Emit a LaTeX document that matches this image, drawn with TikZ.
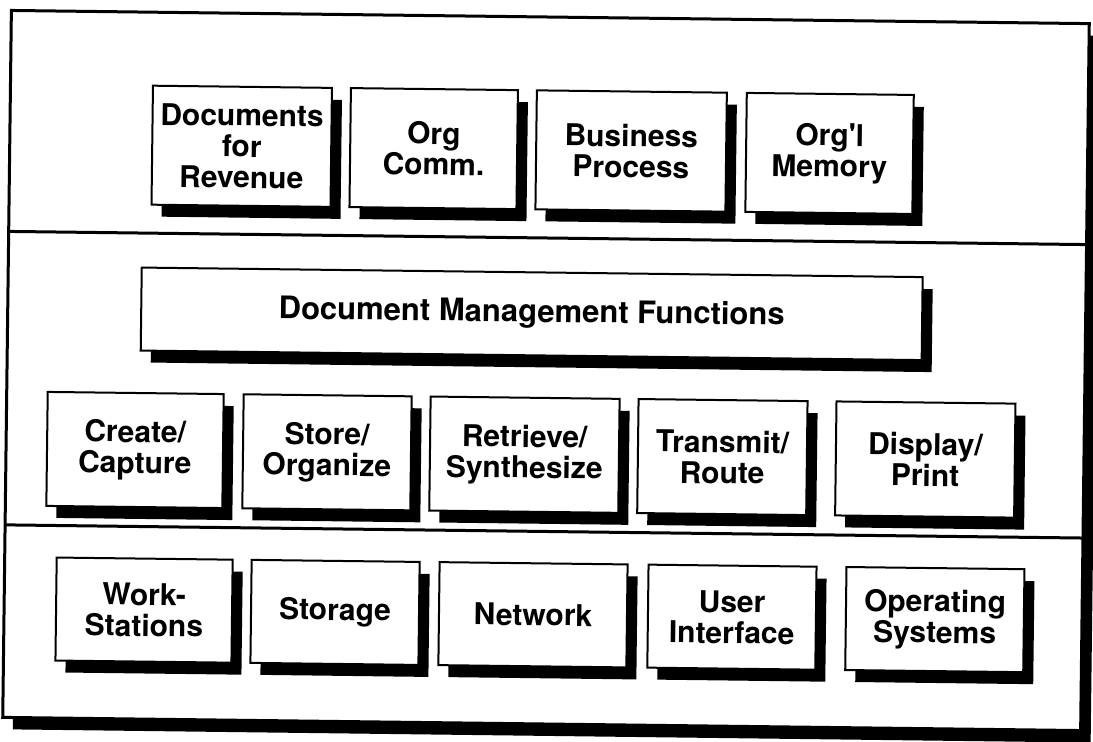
\documentclass[tikz,border=0pt]{standalone}
\usepackage{fontspec}
\setmainfont{TeX Gyre Heros}
\usetikzlibrary{positioning,shadows}
\tikzset{
    frame-box/.style = {draw, line width=3pt, fill=white, inner sep=0pt, outer sep=0pt, minimum width=1078pt, minimum height=707pt, drop shadow={shadow xshift=10pt, shadow yshift=-12pt, fill=black, opacity=1}},
    shadow-box/.style = {draw, line width=2pt, fill=white, align=center, inner sep=2pt, outer sep=0pt, font=\bfseries\fontsize{30}{31}\selectfont, drop shadow={shadow xshift=10pt, shadow yshift=-12pt, fill=black, opacity=1}},
    top-box/.style = {shadow-box, minimum height=119pt},
    mid-box/.style = {shadow-box, minimum height=114pt},
    low-box/.style = {shadow-box, minimum height=103pt},
}

\begin{document}
\begin{tikzpicture}[x=1pt, y=-1pt]
\useasboundingbox (0,0) rectangle (1093,742);
\begin{scope}[rotate around={-0.7:(546,371)}, transform shape]
\node [frame-box] (frame) at (546,370.5) {};
\coordinate (upper) at (0,238);
\coordinate (lower) at (0,531.5);
\draw [line width=3pt] (frame.west |- upper) -- (frame.east |- upper);
\draw [line width=3pt] (frame.west |- lower) -- (frame.east |- lower);

\node [top-box, minimum width=179pt] (docs) at (239,150) {Documents\\for\\Revenue};
\node [top-box, minimum width=167pt, right=19pt of docs] (comm) {Org\\Comm.};
\node [top-box, minimum width=190pt, right=19pt of comm] (proc) {Business\\Process};
\node [top-box, minimum width=167pt, right=20pt of proc] (memory) {Org\textquotesingle l\\Memory};

\node [shadow-box, minimum width=781pt, minimum height=83pt, font=\bfseries\fontsize{31}{32}\selectfont] (dmf) at (531,314) {Document Management Functions};

\node [mid-box, minimum width=176pt] (create) at (136,455) {Create/\\Capture};
\node [mid-box, minimum width=168pt, right=20pt of create] (store) {Store/\\Organize};
\node [mid-box, minimum width=189pt, right=19pt of store] (retrieve) {Retrieve/\\Synthesize};
\node [mid-box, minimum width=169pt, right=19pt of retrieve] (transmit) {Transmit/\\Route};
\node [mid-box, minimum width=179pt, right=29pt of transmit] (display) {Display/\\Print};

\node [low-box, minimum width=176pt] (work) at (147,615) {Work-\\Stations};
\node [low-box, minimum width=168pt, right=19pt of work] (storage) {Storage};
\node [low-box, minimum width=188pt, right=20pt of storage] (network) {Network};
\node [low-box, minimum width=168pt, right=21pt of network] (ui) {User\\Interface};
\node [low-box, minimum width=178pt, right=30pt of ui] (os) {Operating\\Systems};
\end{scope}
\end{tikzpicture}
\end{document}
